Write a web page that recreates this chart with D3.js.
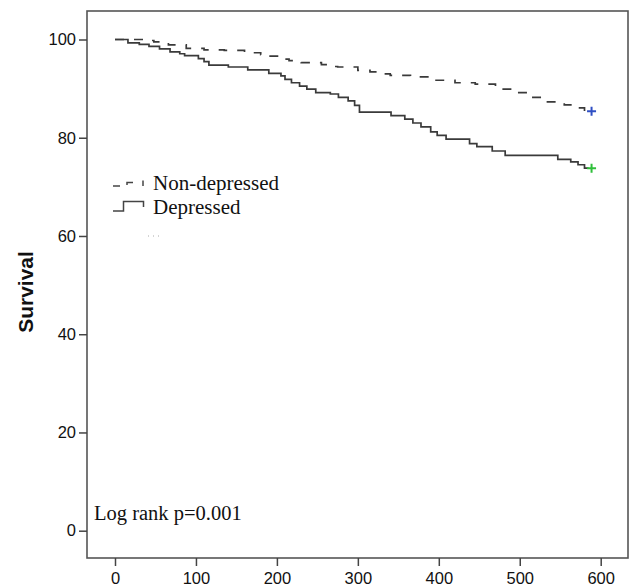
<!DOCTYPE html>
<html>
<head>
<meta charset="utf-8">
<script src="https://cdn.jsdelivr.net/npm/d3@7"></script>
<style>
  body { margin: 0; background: #fff; }
  #chart svg { display: block; }
</style>
</head>
<body>
<div id="chart"></div>
<script>
// Kaplan-Meier curves: survival by depression status

// Depressed (solid line): event times (days) and survival (%) after each step
const depTimes = [0, 16, 30, 42, 55, 68, 80, 86, 103, 110, 116, 140, 164, 190, 205, 210, 218, 228, 237, 248, 266, 276, 288, 296, 302, 341, 358, 368, 378, 390, 398, 409, 438, 447, 466, 482, 547, 563, 572, 580, 585];
const depSurv  = [100, 99.3, 99.0, 98.6, 98.1, 97.5, 97.1, 96.7, 96.1, 95.5, 94.8, 94.4, 93.8, 93.1, 92.6, 91.9, 91.2, 90.5, 89.9, 89.2, 88.9, 88.2, 87.5, 86.6, 85.2, 84.5, 83.8, 83.0, 82.2, 81.2, 80.5, 79.7, 78.8, 78.2, 77.3, 76.4, 75.6, 75.1, 74.5, 73.8, 73.8];

// Non-depressed (dashed line)
const nonTimes = [0, 40, 48, 66, 88, 110, 135, 160, 180, 186, 205, 215, 230, 255, 265, 275, 300, 315, 325, 340, 365, 395, 420, 445, 470, 495, 512, 530, 555, 570, 580, 585];
const nonSurv  = [100, 99.8, 99.5, 98.9, 98.2, 97.9, 97.8, 97.3, 96.9, 96.6, 96.0, 95.7, 95.3, 94.9, 94.5, 94.4, 93.7, 93.4, 93.0, 92.7, 92.4, 91.7, 91.2, 90.9, 89.9, 89.2, 88.2, 87.3, 86.7, 86.1, 85.4, 85.4];

const xTicks = [0, 100, 200, 300, 400, 500, 600];
const yTicks = [0, 20, 40, 60, 80, 100];
const seriesNames = ["Non-depressed", "Depressed"];
const yTitle = "Survival";
const noteText = "Log rank p=0.001";

const width = 632, height = 587;
const frame = { left: 87, top: 11, right: 628, bottom: 558 };

const svg = d3.select("#chart").append("svg")
    .attr("width", width)
    .attr("height", height);

// Scales
const x = d3.scaleLinear().domain([0, 600]).range([115, 600.7]);
const y = d3.scaleLinear().domain([0, 100]).range([530.7, 39.5]);

// Frame
svg.append("rect")
    .attr("x", frame.left)
    .attr("y", frame.top)
    .attr("width", frame.right - frame.left)
    .attr("height", frame.bottom - frame.top)
    .attr("fill", "none")
    .attr("stroke", "#555")
    .attr("stroke-width", 1.6);

// Axes
const yAxis = svg.append("g")
    .attr("transform", `translate(${frame.left},0)`)
    .call(d3.axisLeft(y).tickValues(yTicks).tickSize(8).tickPadding(3));
const xAxis = svg.append("g")
    .attr("transform", `translate(0,${frame.bottom})`)
    .call(d3.axisBottom(x).tickValues(xTicks).tickSize(8).tickPadding(6));

[yAxis, xAxis].forEach(a => {
    a.select(".domain").remove();
    a.selectAll(".tick line").attr("stroke", "#444").attr("stroke-width", 1.5);
    a.selectAll(".tick text")
        .attr("fill", "#111")
        .style("font-family", "Liberation Sans, Arial, sans-serif")
        .style("font-size", "16.5px");
});

// Y title
svg.append("text")
    .attr("transform", "translate(33,292) rotate(-90)")
    .attr("text-anchor", "middle")
    .attr("fill", "#111")
    .style("font-family", "Liberation Sans, Arial, sans-serif")
    .style("font-size", "21px")
    .style("font-weight", "bold")
    .text(yTitle);

// Curves
const line = d3.line()
    .x(d => x(d[0]))
    .y(d => y(d[1]))
    .curve(d3.curveStepAfter);

const nonData = nonTimes.map((t, i) => [t, nonSurv[i]]);
const depData = depTimes.map((t, i) => [t, depSurv[i]]);

svg.append("path")
    .datum(depData)
    .attr("d", line)
    .attr("fill", "none")
    .attr("stroke", "#3a3a3a")
    .attr("stroke-width", 1.7);

svg.append("path")
    .datum(nonData)
    .attr("d", line)
    .attr("fill", "none")
    .attr("stroke", "#3a3a3a")
    .attr("stroke-width", 1.7)
    .attr("stroke-dasharray", "9,10");

// Censor marks at the end of follow-up
const censor = [
    { d: nonData[nonData.length - 1], color: "#2f4fc4" },
    { d: depData[depData.length - 1], color: "#2fbf3a" }
];
censor.forEach(c => {
    const cx = x(c.d[0]) + 3, cy = y(c.d[1]);
    svg.append("path")
        .attr("d", `M${cx - 4.5},${cy}H${cx + 4.5}M${cx},${cy - 4.5}V${cy + 4.5}`)
        .attr("stroke", c.color)
        .attr("stroke-width", 2);
});

// Legend
const lg = svg.append("g").attr("stroke", "#444").attr("stroke-width", 1.5).attr("fill", "none");
// dashed step glyph
lg.append("path").attr("d", "M113,186H120");
lg.append("path").attr("d", "M127,185V182.5H133");
lg.append("path").attr("d", "M143,180.5V186");
// solid step glyph
lg.append("path").attr("d", "M113,211H123.5V201.5H143.5V207");
// censor glyph row
lg.append("path").attr("d", "M148,236H162").attr("stroke", "#aaa").attr("stroke-width", 1).attr("stroke-dasharray", "1,4");

const legendFont = "Liberation Serif, Times New Roman, serif";
svg.append("text")
    .attr("x", 153).attr("y", 190)
    .attr("fill", "#111")
    .style("font-family", legendFont)
    .style("font-size", "21px")
    .text(seriesNames[0]);
svg.append("text")
    .attr("x", 153).attr("y", 214)
    .attr("fill", "#111")
    .style("font-family", legendFont)
    .style("font-size", "21px")
    .text(seriesNames[1]);

// Log rank note
svg.append("text")
    .attr("x", 94).attr("y", 520)
    .attr("fill", "#111")
    .style("font-family", legendFont)
    .style("font-size", "20.5px")
    .text(noteText);
</script>
</body>
</html>
